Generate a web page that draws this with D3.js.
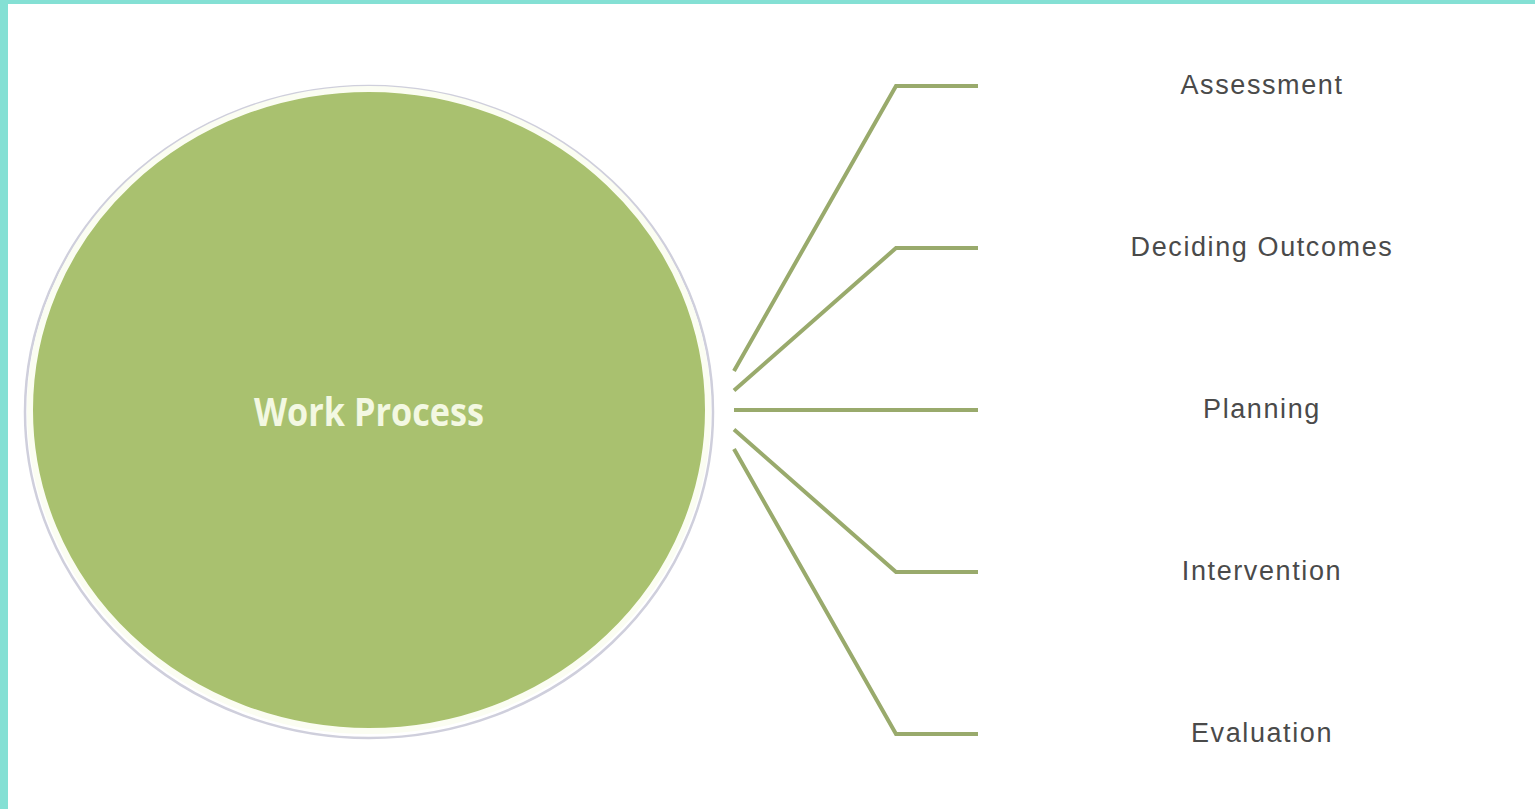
<!DOCTYPE html>
<html>
<head>
<meta charset="utf-8">
<script src="https://cdn.jsdelivr.net/npm/d3@7"></script>
<style>
  html, body { margin: 0; padding: 0; background: #ffffff; overflow: hidden; }
  #chart { width: 1535px; height: 809px; }
</style>
</head>
<body>
<div id="chart"></div>
<script>
// centre label and the branches of the diagram
var centerLabel = "Work Process";
var steps = ["Assessment", "Deciding Outcomes", "Planning", "Intervention", "Evaluation"];

var width = 1535, height = 809;

var svg = d3.select("#chart").append("svg")
  .attr("width", width)
  .attr("height", height);

// teal frame on top and left
svg.append("rect").attr("x", 0).attr("y", 0).attr("width", width).attr("height", 4).attr("fill", "#84e0d4");
svg.append("rect").attr("x", 0).attr("y", 0).attr("width", 8).attr("height", height).attr("fill", "#84e0d4");

// big ellipse
var cx = 369, cy = 410, rx = 336, ry = 318;

svg.append("ellipse")
  .attr("cx", cx).attr("cy", cy + 2)
  .attr("rx", rx + 8).attr("ry", ry + 8)
  .attr("fill", "none")
  .attr("stroke", "#cfcfdc")
  .attr("stroke-width", 2.5);

svg.append("ellipse")
  .attr("cx", cx).attr("cy", cy)
  .attr("rx", rx + 3).attr("ry", ry + 3)
  .attr("fill", "#a9c16f")
  .attr("stroke", "#fbfdf2")
  .attr("stroke-width", 6);

svg.append("text")
  .attr("x", cx).attr("y", cy)
  .attr("text-anchor", "middle")
  .attr("dominant-baseline", "central")
  .attr("textLength", 230)
  .attr("lengthAdjust", "spacingAndGlyphs")
  .style("font", "bold 40px 'Open Sans', sans-serif")
  .style("fill", "#f3f8e2")
  .text(centerLabel);

// scales: where each branch starts (circle edge) and where it ends (label row)
var yEnd = d3.scalePoint().domain(steps).range([86, 734]);
var yStart = d3.scalePoint().domain(steps).range([371, 449]);
var xStart = 734, xElbow = 896, xEnd = 978, xLabel = 1262;

var line = d3.line();

svg.selectAll("path.branch")
  .data(steps)
  .enter()
  .append("path")
  .attr("class", "branch")
  .attr("d", function(d){
    return line([[xStart, yStart(d)], [xElbow, yEnd(d)], [xEnd, yEnd(d)]]);
  })
  .attr("fill", "none")
  .attr("stroke", "#99aa6c")
  .attr("stroke-width", 4)
  .attr("stroke-linejoin", "miter");

svg.selectAll("text.step")
  .data(steps)
  .enter()
  .append("text")
  .attr("class", "step")
  .attr("x", xLabel)
  .attr("y", function(d){ return yEnd(d) - 1; })
  .attr("text-anchor", "middle")
  .attr("dominant-baseline", "central")
  .style("font", "27px 'Liberation Sans', Arial, sans-serif")
  .style("letter-spacing", "1.6px")
  .style("fill", "#4a4a4a")
  .text(function(d){ return d; });
</script>
</body>
</html>
